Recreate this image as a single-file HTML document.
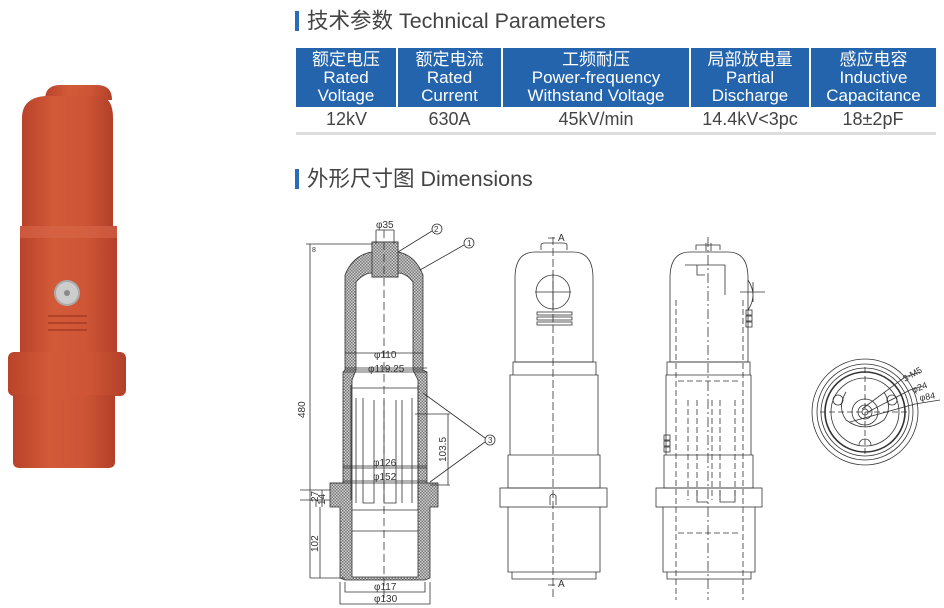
<!DOCTYPE html>
<html><head><meta charset="utf-8"><style>
html,body{margin:0;padding:0;background:#fff;}
body{width:944px;height:608px;position:relative;overflow:hidden;font-family:"Liberation Sans","Noto Sans CJK SC",sans-serif;}
.h{position:absolute;left:295px;font-size:21.5px;color:#444;line-height:22px;}
.h:before{content:"";position:absolute;left:0;top:1px;width:4px;height:20px;background:#2a6ab8;}
.h span{margin-left:12px;}
table{position:absolute;left:296px;top:48px;border-collapse:collapse;width:640px;}
th{background:#2364ad;color:#fff;font-weight:normal;font-size:17px;line-height:18px;height:59px;padding:0;border-left:2px solid #fff;text-align:center;}
th:first-child{border-left:none;}
td{font-size:18px;color:#444;text-align:center;height:25px;padding:0;border-bottom:3px solid #ddd;}
</style></head><body>
<div class="h" style="top:10px"><span>技术参数 Technical Parameters</span></div>
<table>
<tr><th style="width:100px">额定电压<br>Rated<br>Voltage</th><th style="width:103px">额定电流<br>Rated<br>Current</th><th style="width:186px">工频耐压<br>Power-frequency<br>Withstand Voltage</th><th style="width:118px">局部放电量<br>Partial<br>Discharge</th><th>感应电容<br>Inductive<br>Capacitance</th></tr>
<tr><td>12kV</td><td>630A</td><td>45kV/min</td><td>14.4kV&lt;3pc</td><td>18±2pF</td></tr>
</table>
<div class="h" style="top:168px"><span>外形尺寸图 Dimensions</span></div>

<svg width="944" height="608" style="position:absolute;left:0;top:0" xmlns="http://www.w3.org/2000/svg">
<defs>
<pattern id="hp" width="3" height="3" patternUnits="userSpaceOnUse"><rect width="3" height="3" fill="#d0d0d0"/><rect width="1.5" height="1.5" fill="#777"/><rect x="1.5" y="1.5" width="1.5" height="1.5" fill="#777"/></pattern>
<linearGradient id="rg" x1="0" x2="1"><stop offset="0" stop-color="#b9432a"/><stop offset="0.35" stop-color="#d35a39"/><stop offset="0.7" stop-color="#cd5535"/><stop offset="1" stop-color="#b2402a"/></linearGradient>
</defs>
<g fill="url(#rg)">
<path d="M45,100 Q45,85 60,85 H97 Q112,85 112,100 Z"/>
<path d="M22,118 Q22,98 45,96 H100 Q113,98 113,118 V228 H22 Z"/>
<rect x="20" y="226" width="97" height="128"/>
<rect x="8" y="352" width="118" height="44" rx="6"/>
<path d="M13,395 H115 V462 Q115,468 108,468 H20 Q13,468 13,462 Z"/>
</g>
<rect x="20" y="226" width="97" height="12" fill="#d8654a" opacity="0.6"/>
<g stroke="#a53a24" stroke-width="1.5" fill="none"><path d="M48,316 H87 M48,323 H87 M48,330 H87"/></g>
<circle cx="67" cy="293" r="13" fill="#aaa"/><circle cx="67" cy="293" r="11" fill="#ccc"/><circle cx="67" cy="293" r="3" fill="#888"/>

<g stroke="#333" stroke-width="0.8" fill="none" font-family="Liberation Sans" font-size="10">
<path fill="url(#hp)" d="M372,242 H398 V252 Q415,255 423,275 V370 L427,372 V483 H438 V507 H430 V578 L425,580 H345 L340,578 V507 H330 V483 H343 V372 L345,370 V275 Q353,255 372,252 Z"/>
<path fill="#fff" d="M356,282 Q364,273 372,273 V277 H398 V273 Q406,273 413,282 V370 L418,380 V577 H352 V380 L356,370 Z"/>
<rect x="372" y="242" width="26" height="35" fill="url(#hp)"/>
<path d="M345,370 H423 M343,372 H427 M343,466 H427 M330,483 H438 M352,388 H418 M352,510 H418 M352,531 H418"/>
<path d="M356,398 V503 M363,398 V503 H374 V400 M384,400 V503 H396 V400 M402,400 V503 M412,398 V503"/>
<path d="M351,385 V500 M418,385 V500"/>
<path d="M384,230 V600" stroke-dasharray="8,4"/>
<path d="M310,244 H372 M310,244 V578 M310,578 H345 M306,244 H316"/>
<path d="M376,230 H394 M376,230 V244 M394,230 V244"/>
<path d="M345,353 H423 M345,368 H427 M343,468 H427 M343,481 H427"/>
<path d="M345,582 V592 H425 V582 M340,582 V604 H430 V582"/>
<path d="M415,414 H450 M430,485 H450 M448,414 V485"/>
<path d="M300,490 H330 M300,500 H330 M322,490 V507 M316,500 V507 M320,507 V578"/>
<path d="M398,252 L432,231 M420,270 L464,245 M423,393 L485,438 M430,482 L485,442"/>
<circle cx="437" cy="229" r="5"/><circle cx="469" cy="243" r="5"/><circle cx="490" cy="440" r="5"/>
<g stroke="none" fill="#333">
<text x="376" y="228">φ35</text>
<text x="434" y="232" font-size="8">2</text><text x="467" y="246" font-size="8">1</text><text x="488" y="443" font-size="8">3</text>
<text x="374" y="358">φ110</text><text x="368" y="372">φ119.25</text>
<text x="373" y="466">φ126</text><text x="373" y="480">φ152</text>
<text x="374" y="590">φ117</text><text x="374" y="602">φ130</text>
<text transform="translate(305,418) rotate(-90)">480</text>
<text transform="translate(446,462) rotate(-90)">103.5</text>
<text transform="translate(318,502) rotate(-90)">27</text>
<text transform="translate(325,505) rotate(-90)">14</text>
<text transform="translate(318,552) rotate(-90)">102</text>
<text x="312" y="252" font-size="7">8</text>
</g>

<path d="M541,250 V245 Q541,243 545,243 H563 Q567,243 567,245 V250"/>
<path d="M515,362 V278 Q515,252 535,252 H573 Q593,252 593,278 V362 Z"/>
<path d="M513,362 H596 V375 H513 Z M510,375 H598 V455 H510 Z M508,455 H600 V488 H508 Z"/>
<rect x="500" y="488" width="107" height="19"/>
<path d="M508,507 V572 H600 V507 M512,572 V579 H596 V572"/>
<circle cx="553" cy="292" r="17"/>
<path d="M535,292 H571 M553,274 V310"/>
<rect x="537" y="312" width="35" height="3"/><rect x="537" y="317" width="35" height="3"/><rect x="537" y="322" width="35" height="3"/>
<path d="M553,237 V600" stroke-dasharray="8,3"/>
<path d="M548,238 H555 M548,585 H555"/>
<path d="M550,505 V496 Q553,492 556,496 V505"/>
<g stroke="none" fill="#333"><text x="558" y="241">A</text><text x="558" y="587">A</text></g>

<path d="M696,250 V245 H720 V250 M706,243 V251 M711,243 V251"/>
<path d="M670,362 V278 Q670,252 690,252 H728 Q748,252 748,278 V362 Z"/>
<path d="M667,362 H750 V375 H667 Z M666,375 H751 V455 H666 Z M664,455 H753 V488 H664 Z"/>
<rect x="656" y="488" width="106" height="19"/>
<path d="M663,507 V572 H755 V507 M667,572 V579 H751 V572"/>
<path d="M708,237 V600" stroke-dasharray="10,3,2,3"/>
<g stroke-dasharray="6,3"><path d="M676,300 V600 M743,300 V600 M678,381 H740 M678,533 H740 M688,400 V500 M697,400 V500 M712,400 V500 M720,400 V500 M735,400 V500"/></g>
<path d="M685,265 H725 V295 M697,265 V275 H705 M748,280 Q758,295 748,310 M740,292 H765 M753,282 V302"/>
<rect x="746" y="310" width="6" height="5"/><rect x="746" y="316" width="6" height="5"/><rect x="746" y="322" width="6" height="5"/>
<rect x="664" y="435" width="6" height="5"/><rect x="664" y="441" width="6" height="5"/><rect x="664" y="447" width="6" height="5"/>
<path d="M697,490 V502 H708 M720,490 V502 H735 V490"/>

<g transform="translate(865,412)">
<circle r="53"/><circle r="48"/><circle r="44"/><circle r="40" stroke-width="1.6"/><circle r="34"/>
<circle r="13"/><circle r="7"/><circle r="3"/>
<path d="M-45,0 H45 M0,-45 V45" stroke-dasharray="6,3"/>
<path d="M-19,-20 Q-28,-5 -19,8 Q0,22 19,8 Q28,-5 19,-20"/>
<circle cx="-27" cy="-12" r="5"/><circle cx="27" cy="-12" r="5"/><path d="M-6,33 A6,6 0 0 1 6,33"/>
<path d="M-3,-3 L40,-35 L55,-40 M3,0 L45,-22 L58,-26 M-15,10 L50,-8 L75,-12"/>
</g>
<g stroke="none" fill="#333" font-size="9">
<text transform="translate(905,382) rotate(-30)">3-M5</text>
<text transform="translate(913,393) rotate(-20)">φ24</text>
<text transform="translate(920,401) rotate(-10)">φ84</text>
</g>
</g>
</svg>
</body></html>
